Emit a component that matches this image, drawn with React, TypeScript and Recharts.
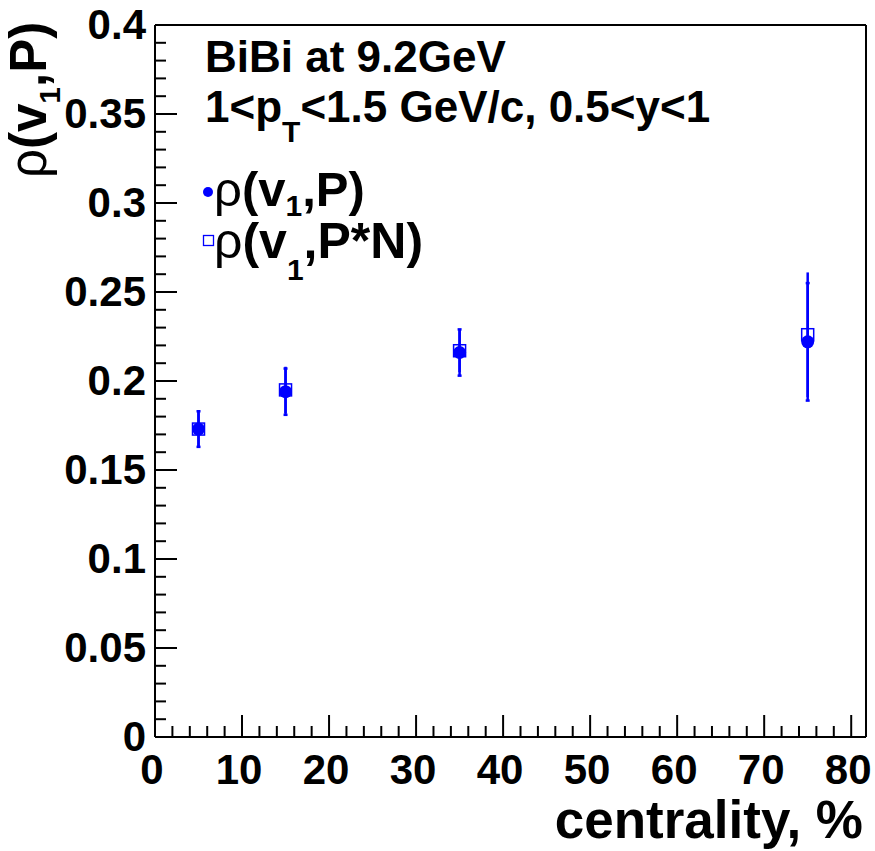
import React from "react";
import { ComposedChart, Scatter, XAxis, YAxis, ErrorBar } from "recharts";

// centrality bins (%)
const centrality = [5, 15, 35, 75];
// rho(v1, P)
const rhoP = [0.173, 0.194, 0.216, 0.222];
const rhoPErr = [0.01, 0.013, 0.013, 0.033];
// rho(v1, P*N)
const rhoPN = [0.173, 0.195, 0.217, 0.226];
const rhoPNErr = [0.01, 0.013, 0.012, 0.035];

const xMajor = [0, 10, 20, 30, 40, 50, 60, 70, 80];
const yMajor = [0, 0.05, 0.1, 0.15, 0.2, 0.25, 0.3, 0.35, 0.4];
const xMinorStep = 2;
const yMinorStep = 0.01;

const W = 875;
const H = 851;
const BLUE = "#0000ff";
const FONT = "'Liberation Sans', Arial, Helvetica, sans-serif";

const xTicks: number[] = [];
for (let v = 0; v <= 80 + 1e-9; v += xMinorStep) xTicks.push(Math.round(v * 100) / 100);
const yTicks: number[] = [];
for (let i = 0; i <= 40; i++) yTicks.push(Math.round(i * yMinorStep * 1000) / 1000);

const isMajor = (list: number[], v: number) => list.some((m) => Math.abs(m - v) < 1e-6);

const MAJ = 22;
const MIN = 11;

const dataP = centrality.map((c, i) => ({ x: c, y: rhoP[i], err: rhoPErr[i] }));
const dataPN = centrality.map((c, i) => ({ x: c, y: rhoPN[i], err: rhoPNErr[i] }));

const BottomTick = (p: any) => {
  const v = p.payload.value;
  const major = isMajor(xMajor, v);
  return (
    <g>
      <line x1={p.x} x2={p.x} y1={p.y} y2={p.y - (major ? MAJ : MIN)} stroke="#000" strokeWidth={2} />
      {major && (
        <text x={p.x - 3} y={p.y + 47} textAnchor="middle" fontFamily={FONT} fontWeight="bold" fontSize={42} fill="#000">
          {v}
        </text>
      )}
    </g>
  );
};

const TopTick = (p: any) => {
  const major = isMajor(xMajor, p.payload.value);
  return <line x1={p.x} x2={p.x} y1={p.y} y2={p.y + (major ? MAJ : MIN)} stroke="#000" strokeWidth={2} />;
};

const LeftTick = (p: any) => {
  const v = p.payload.value;
  const major = isMajor(yMajor, v);
  return (
    <g>
      <line x1={p.x} x2={p.x + (major ? MAJ : MIN)} y1={p.y} y2={p.y} stroke="#000" strokeWidth={2} />
      {major && (
        <text x={p.x - 9} y={p.y + 14} textAnchor="end" fontFamily={FONT} fontWeight="bold" fontSize={42} fill="#000">
          {String(v)}
        </text>
      )}
    </g>
  );
};

const RightTick = (p: any) => {
  const major = isMajor(yMajor, p.payload.value);
  return <line x1={p.x} x2={p.x - (major ? MAJ : MIN)} y1={p.y} y2={p.y} stroke="#000" strokeWidth={2} />;
};

const Dot = (p: any) => <circle cx={p.cx} cy={p.cy} r={6.5} fill={BLUE} />;
const OpenSquare = (p: any) => (
  <rect x={p.cx - 6} y={p.cy - 6} width={12} height={12} fill="none" stroke={BLUE} strokeWidth={1.5} />
);

const axisLine = { stroke: "#000", strokeWidth: 2 };

export default function App() {
  return (
    <div style={{ position: "absolute", left: 0, top: 0, width: W, height: H, background: "#fff" }}>
      <ComposedChart width={W} height={H} margin={{ top: 24, right: 8, bottom: 113, left: 154 }}>
        <XAxis xAxisId="b" dataKey="x" type="number" orientation="bottom" domain={[0, 81.7]} ticks={xTicks}
          interval={0} height={1} tickSize={0} tickMargin={0} tickLine={false} axisLine={axisLine} tick={BottomTick} />
        <XAxis xAxisId="t" dataKey="x" type="number" orientation="top" domain={[0, 81.7]} ticks={xTicks}
          interval={0} height={1} tickSize={0} tickMargin={0} tickLine={false} axisLine={axisLine} tick={TopTick} />
        <YAxis yAxisId="l" dataKey="y" type="number" orientation="left" domain={[0, 0.4]} ticks={yTicks}
          interval={0} width={1} tickSize={0} tickMargin={0} tickLine={false} axisLine={axisLine} tick={LeftTick} />
        <YAxis yAxisId="r" dataKey="y" type="number" orientation="right" domain={[0, 0.4]} ticks={yTicks}
          interval={0} width={1} tickSize={0} tickMargin={0} tickLine={false} axisLine={axisLine} tick={RightTick} />
        <Scatter data={dataPN} dataKey="y" xAxisId="b" yAxisId="l" shape={OpenSquare} isAnimationActive={false}>
          <ErrorBar dataKey="err" direction="y" width={0} stroke={BLUE} strokeWidth={2.5} isAnimationActive={false} />
        </Scatter>
        <Scatter data={dataP} dataKey="y" xAxisId="b" yAxisId="l" shape={Dot} isAnimationActive={false}>
          <ErrorBar dataKey="err" direction="y" width={2} stroke={BLUE} strokeWidth={2.5} isAnimationActive={false} />
        </Scatter>
      </ComposedChart>
      <svg width={W} height={H} style={{ position: "absolute", left: 0, top: 0, pointerEvents: "none" }}
        fontFamily={FONT} fill="#000">
        {/* y axis title */}
        <text transform="translate(46,178) rotate(-90)" fontSize={51}>
          <tspan fontWeight="normal">ρ</tspan>
          <tspan fontWeight="bold">(v</tspan>
          <tspan fontWeight="bold" fontSize={30} dy={14}>1</tspan>
          <tspan fontWeight="bold" dy={-14}>,P)</tspan>
        </text>
        {/* x axis title */}
        <text x={863} y={838} textAnchor="end" fontSize={53} fontWeight="bold">centrality, %</text>
        {/* header */}
        <text x={205} y={72} fontSize={44} fontWeight="bold">BiBi at 9.2GeV</text>
        <text x={205} y={122} fontSize={44} fontWeight="bold">
          1&lt;p<tspan fontSize={30} dy={20}>T</tspan>
          <tspan dy={-20}>&lt;1.5 GeV/c, 0.5&lt;y&lt;1</tspan>
        </text>
        {/* legend */}
        <circle cx={208} cy={192} r={5} fill={BLUE} />
        <text x={214} y={206} fontSize={49}>
          <tspan fontWeight="normal">ρ</tspan>
          <tspan fontWeight="bold">(v</tspan>
          <tspan fontWeight="bold" fontSize={30} dy={10}>1</tspan>
          <tspan fontWeight="bold" dy={-10}>,P)</tspan>
        </text>
        <rect x={203.5} y={235.5} width={10} height={10} fill="none" stroke={BLUE} strokeWidth={1.3} />
        <text x={214} y={258} fontSize={50}>
          <tspan fontWeight="normal">ρ</tspan>
          <tspan fontWeight="bold">(v</tspan>
          <tspan fontWeight="bold" fontSize={30} dy={22}>1</tspan>
          <tspan fontWeight="bold" dy={-22}>,P*N)</tspan>
        </text>
      </svg>
    </div>
  );
}
